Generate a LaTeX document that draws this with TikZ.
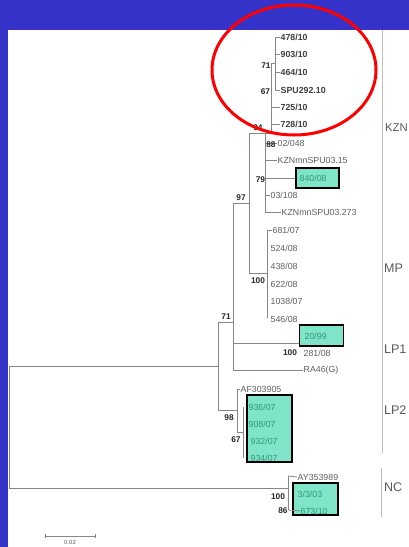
\documentclass[tikz,border=0pt]{standalone}
\usepackage{fontspec}
\setmainfont{Liberation Sans}
\definecolor{bgblue}{RGB}{52,50,200}
\definecolor{boxfill}{RGB}{128,228,200}
\definecolor{boxtext}{RGB}{50,150,120}
\definecolor{branch}{RGB}{135,135,135}
\definecolor{taxon}{RGB}{95,95,95}
\begin{document}
\begin{tikzpicture}[x=1pt,y=-1pt,
  br/.style={draw=branch,line width=0.8pt},
  tx/.style={anchor=west,inner sep=0.5pt,font=\fontsize{8.8}{10}\selectfont,text=taxon},
  txb/.style={tx,font=\fontsize{8.8}{10}\selectfont\bfseries,text=black!75},
  bs/.style={inner sep=0.3pt,font=\fontsize{8.3}{9}\selectfont\bfseries,text=black!85},
  bx/.style={draw=black,line width=1.2pt,fill=boxfill,inner sep=0pt},
  btx/.style={anchor=west,inner sep=0.5pt,font=\fontsize{8.8}{10}\selectfont,text=boxtext},
  grp/.style={anchor=west,inner sep=0pt,font=\fontsize{12.5}{14}\selectfont,text=black!65}]
\useasboundingbox (0,0) rectangle (409,547);
\clip (0,0) rectangle (409,547);
\fill[bgblue] (0,0) rectangle (409,547);
\fill[white] (8,30) rectangle (409,547);

% right group separator line
\draw[draw=black!25,line width=0.9pt] (382,30) -- (382,453);
\draw[draw=black!25,line width=0.9pt] (381,468) -- (381,517);
\node[grp,font=\fontsize{11.3}{13}\selectfont] (gKZN) at (385,128) {KZN};
\node[grp] (gMP) at (384,268) {MP};
\node[grp] (gLP1) at (384,349) {LP1};
\node[grp] (gLP2) at (384,410) {LP2};
\node[grp] (gNC) at (384,487) {NC};

% ---- top KZN clade
\node[txb] (t1) at (280,37) {478/10};
\node[txb] (t2) at (280,54) {903/10};
\node[txb] (t3) at (280,72) {464/10};
\node[txb] (t4) at (280,90) {SPU292.10};
\node[txb] (t5) at (280,107) {725/10};
\node[txb] (t6) at (280,124) {728/10};
\coordinate (n71) at (275,63);
\coordinate (n67) at (271,63);
\draw[br] (275,37) -- (275,90);
\foreach \t/\y in {t1/37,t2/54,t3/72,t4/90} \draw[br] (275,\y) -- (\t.west);
\draw[br] (n67) -- (n71);
\draw[br] (271,63) -- (271,133);
\draw[br] (271,107) -- (t5.west);
\draw[br] (271,124) -- (t6.west);
\node[bs,anchor=east] (l71a) at (271,66) {71};
\node[bs,anchor=east] (l67) at (270.5,92) {67};

% ---- lower KZN clade
\coordinate (n97) at (249,203);
\draw[br] (249,133) -- (271,133);
\node[bs,anchor=east] (l94) at (263,128) {94};
\draw[br] (265,133) -- (265,212);
\node[tx] (a1) at (277,143) {02/048};
\node[tx] (a2) at (277,160) {KZNmnSPU03.15};
\node[bx,minimum width=43pt,minimum height=20pt] (b1) at (317.5,178) {};
\node[btx] (b1t) at (299,178) {840/08};
\node[tx] (a3) at (270,195) {03/108};
\node[tx] (a4) at (281,212) {KZNmnSPU03.273};
\draw[br] (265,143) -- (a1.west);
\draw[br] (265,160) -- (a2.west);
\draw[br] (265,178) -- (b1.west);
\draw[br] (265,195) -- (a3.west);
\draw[br] (265,212) -- (a4.west);
\node[bs,anchor=east] (l88) at (276,145) {88};
\node[bs,anchor=east] (l79) at (265.5,180) {79};

% ---- MP clade
\draw[br] (249,133) -- (249,273);
\draw[br] (233,203) -- (n97);
\node[bs] (l97) at (241,198) {97};
\draw[br] (249,273) -- (267,273);
\draw[br] (267,230) -- (267,318);
\node[tx] (m1) at (272,230) {681/07};
\node[tx] (m2) at (270,248) {524/08};
\node[tx] (m3) at (270,266) {438/08};
\node[tx] (m4) at (270,284) {622/08};
\node[tx] (m5) at (270,301) {1038/07};
\node[tx] (m6) at (270,319) {546/08};
\draw[br] (267,230) -- (m1.west);
\node[bs] (l100a) at (258,281) {100};

% ---- LP1 clade
\draw[br] (233,203) -- (233,370);
\node[bx,minimum width=44pt,minimum height=21pt] (b2) at (321.5,335.5) {};
\node[btx] (b2t) at (304,336) {20/99};
\draw[br] (233,343) -- (b2.west |- 0,343);
\node[tx] (p1) at (303,353) {281/08};
\node[bs] (l100b) at (290,353) {100};
\node[tx] (p2) at (303,370) {RA46(G)};
\draw[br] (233,370) -- (p2.west);
\draw[br] (218,322) -- (233,322);
\node[bs] (l71b) at (226,317) {71};

% ---- LP2 clade
\draw[br] (218,322) -- (218,410);
\draw[br] (218,410) -- (237,410);
\node[bs] (l98) at (229,418) {98};
\draw[br] (237,389) -- (237,432);
\node[tx] (q0) at (240,389) {AF303905};
\draw[br] (237,389) -- (q0.west);
\draw[br] (237,432) -- (243,432);
\draw[br] (243,407) -- (243,458);
\node[bx,minimum width=45pt,minimum height=67pt] (b3) at (269.5,428.5) {};
\node[btx] (q1) at (248,407) {936/07};
\node[btx] (q2) at (248,424) {908/07};
\node[btx] (q3) at (250,441) {932/07};
\node[btx] (q4) at (250,458) {934/07};
\node[bs] (l67b) at (236,440) {67};

% ---- root and NC clade
\coordinate (root) at (9,366);
\draw[br] (root) -- (218,366);
\draw[br] (root) -- (9,488);
\draw[br] (9,488) -- (288,488);
\draw[br] (288,476) -- (288,510);
\node[tx] (r0) at (297,477) {AY353989};
\draw[br] (288,476) -- (r0.west);
\node[bx,minimum width=45pt,minimum height=32pt] (b4) at (315.5,499) {};
\node[btx] (r1) at (297,494) {3/3/03};
\node[btx] (r2) at (300,511) {673/10};
\draw[br] (288,510) -- (r2.west);
\node[bs] (l100c) at (278,497) {100};
\node[bs] (l86) at (283,511) {86};

% ---- scale bar
\coordinate (s1) at (45,536);
\coordinate (s2) at (95,536);
\draw[br,line width=0.7pt] (s1) -- (s2);
\draw[br,line width=0.7pt] (45,534) -- (45,538);
\draw[br,line width=0.7pt] (95,534) -- (95,538);
\node[inner sep=0pt,anchor=north,font=\fontsize{6}{7}\selectfont,text=taxon] (sl) at (70,540) {0.02};

% ---- red ellipse
\draw[red,line width=3pt] (294,70) ellipse [x radius=82, y radius=65];
\end{tikzpicture}
\end{document}
